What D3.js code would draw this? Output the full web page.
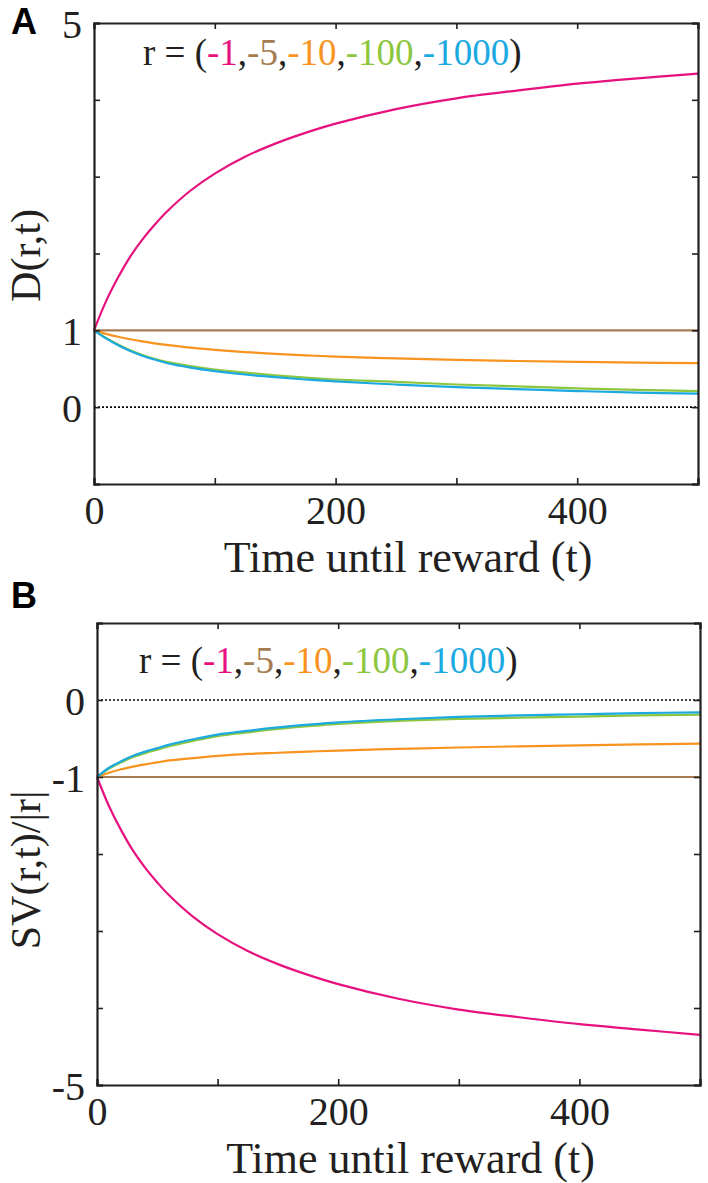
<!DOCTYPE html>
<html>
<head>
<meta charset="utf-8">
<script src="https://cdn.jsdelivr.net/npm/d3@7"></script>
<style>
  html, body { margin: 0; padding: 0; background: #fff; }
  svg { display: block; }
</style>
</head>
<body>
<script>
// ---------- data ----------
const times = [0, 10, 20, 30, 40, 50, 60, 80, 100, 125, 150, 175, 200, 250, 300, 350, 400, 450, 500];
const rewardLabels = ["-1", "-5", "-10", "-100", "-1000"];
const seriesColors = ["#e6117f", "#a57c52", "#f7931e", "#8cc63f", "#1aa9e1"];

// Panel A: D(r,t)
const dA_r1    = [1.00, 1.38, 1.69, 1.96, 2.18, 2.37, 2.54, 2.82, 3.04, 3.26, 3.43, 3.57, 3.69, 3.88, 4.02, 4.12, 4.21, 4.28, 4.34];
const dA_r5    = [1, 1, 1, 1, 1, 1, 1, 1, 1, 1, 1, 1, 1, 1, 1, 1, 1, 1, 1];
const dA_r10   = [1.00, 0.954, 0.916, 0.884, 0.856, 0.831, 0.810, 0.774, 0.746, 0.717, 0.694, 0.675, 0.659, 0.635, 0.616, 0.601, 0.590, 0.580, 0.572];
const dA_r100  = [1.00, 0.90, 0.815, 0.74, 0.68, 0.63, 0.59, 0.535, 0.49, 0.45, 0.415, 0.385, 0.36, 0.33, 0.295, 0.27, 0.245, 0.225, 0.21];
const dA_r1000 = [1.00, 0.895, 0.805, 0.73, 0.67, 0.62, 0.575, 0.515, 0.47, 0.425, 0.39, 0.36, 0.335, 0.295, 0.26, 0.235, 0.21, 0.19, 0.175];

// Panel B: SV(r,t)/|r|
const sB_r1    = [-1.00, -1.38, -1.69, -1.96, -2.18, -2.37, -2.54, -2.82, -3.04, -3.26, -3.43, -3.57, -3.69, -3.88, -4.02, -4.12, -4.21, -4.28, -4.35];
const sB_r5    = [-1, -1, -1, -1, -1, -1, -1, -1, -1, -1, -1, -1, -1, -1, -1, -1, -1, -1, -1];
const sB_r10   = [-1.00, -0.945, -0.90, -0.865, -0.835, -0.81, -0.785, -0.755, -0.725, -0.70, -0.685, -0.67, -0.657, -0.635, -0.617, -0.602, -0.588, -0.576, -0.566];
const sB_r100  = [-1.00, -0.89, -0.81, -0.74, -0.69, -0.645, -0.60, -0.53, -0.47, -0.42, -0.375, -0.34, -0.31, -0.27, -0.245, -0.23, -0.215, -0.20, -0.19];
const sB_r1000 = [-1.00, -0.88, -0.795, -0.725, -0.67, -0.625, -0.58, -0.51, -0.45, -0.40, -0.355, -0.32, -0.29, -0.25, -0.22, -0.20, -0.185, -0.17, -0.16];

const xTicks = [0, 100, 200, 300, 400, 500];
const xTickLabels = [0, 200, 400];
const yTicksA = [-1, 0, 1, 2, 3, 4, 5];
const yTickLabelsA = [0, 1, 5];
const yTicksB = [-5, -4, -3, -2, -1, 0, 1];
const yTickLabelsB = [-5, -1, 0];
const xTitle = "Time until reward (t)";

// ---------- drawing ----------
const W = 708, H = 1183;
const svg = d3.select("body").append("svg").attr("width", W).attr("height", H);
const serif = "'Liberation Serif', 'Times New Roman', serif";
const axisColor = "#231f20";

function panel(opts) {
  const { left, right, top, bottom, yDomain, yTicks, yLabels, series, yTitle, yTitleShift, letter, letterY, legendX, legendY } = opts;
  const x = d3.scaleLinear().domain([0, 500]).range([left, right]);
  const y = d3.scaleLinear().domain(yDomain).range([bottom, top]);
  const g = svg.append("g");

  // zero dotted line
  g.append("line")
    .attr("x1", x(0)).attr("x2", x(500)).attr("y1", y(0)).attr("y2", y(0))
    .attr("stroke", "#000").attr("stroke-width", 1.6).attr("stroke-dasharray", "2,2");

  // curves
  const line = d3.line().x((d, i) => x(times[i])).y(d => y(d)).curve(d3.curveCatmullRom.alpha(0.5));
  series.forEach((s, k) => {
    g.append("path").attr("d", line(s)).attr("fill", "none")
      .attr("stroke", seriesColors[k]).attr("stroke-width", 2.2);
  });

  const fmtX = d => xTickLabels.includes(d) ? d : "";
  const fmtY = d => yLabels.includes(d) ? d : "";

  const axB = g.append("g").attr("transform", `translate(0,${bottom})`)
    .call(d3.axisBottom(x).tickValues(xTicks).tickSize(-6).tickPadding(12).tickFormat(fmtX));
  const axT = g.append("g").attr("transform", `translate(0,${top})`)
    .call(d3.axisTop(x).tickValues(xTicks).tickSize(-6).tickFormat(""));
  const axL = g.append("g").attr("transform", `translate(${left},0)`)
    .call(d3.axisLeft(y).tickValues(yTicks).tickSize(-6).tickPadding(12).tickFormat(fmtY));
  const axR = g.append("g").attr("transform", `translate(${right},0)`)
    .call(d3.axisRight(y).tickValues(yTicks).tickSize(-6).tickFormat(""));
  [axB, axT, axL, axR].forEach(a => {
    a.attr("font-family", serif);
    a.select(".domain").attr("stroke", axisColor).attr("stroke-width", 2.2);
    a.selectAll(".tick line").attr("stroke", axisColor).attr("stroke-width", 1.6);
    a.selectAll(".tick text").attr("fill", "#231f20").style("font-family", serif).style("font-size", "40px");
  });
  axB.selectAll(".tick text").attr("dy", "0.71em");
  axL.selectAll(".tick text").attr("dy", "0.36em");

  // x title
  g.append("text").attr("x", (left + right) / 2 + 12).attr("y", bottom + 88)
    .attr("text-anchor", "middle").style("font-family", serif).style("font-size", "44px")
    .attr("fill", "#231f20").text(xTitle);

  // y title
  g.append("text").attr("transform", `translate(40,${(top + bottom) / 2 + yTitleShift}) rotate(-90)`)
    .attr("text-anchor", "middle").style("font-family", serif).style("font-size", "42px")
    .attr("fill", "#231f20").text(yTitle);

  // panel letter
  g.append("text").attr("x", 11).attr("y", letterY)
    .style("font-family", "'Liberation Sans', Arial, sans-serif").style("font-weight", "bold")
    .style("font-size", "36px").attr("fill", "#000").text(letter);

  // legend
  const t = g.append("text").attr("x", legendX).attr("y", legendY)
    .style("font-family", serif).style("font-size", "37px").attr("fill", "#231f20");
  t.append("tspan").text("r = (");
  rewardLabels.forEach((lab, i) => {
    t.append("tspan").attr("fill", seriesColors[i]).text(lab);
    if (i < rewardLabels.length - 1) t.append("tspan").text(",");
  });
  t.append("tspan").text(")");
}

panel({
  left: 94, right: 698, top: 23, bottom: 484,
  yDomain: [-1, 5], yTicks: yTicksA, yLabels: yTickLabelsA,
  series: [dA_r1, dA_r5, dA_r10, dA_r100, dA_r1000],
  yTitle: "D(r,t)", yTitleShift: 2, letter: "A", letterY: 34, legendX: 143, legendY: 65
});

panel({
  left: 97, right: 700, top: 623, bottom: 1085,
  yDomain: [-5, 1], yTicks: yTicksB, yLabels: yTickLabelsB,
  series: [sB_r1, sB_r5, sB_r10, sB_r100, sB_r1000],
  yTitle: "SV(r,t)/|r|", yTitleShift: 16, letter: "B", letterY: 608, legendX: 139, legendY: 673
});
</script>
</body>
</html>
